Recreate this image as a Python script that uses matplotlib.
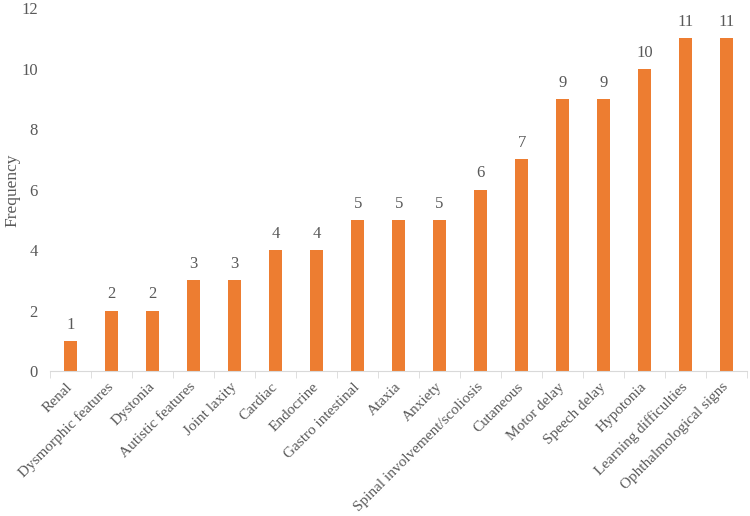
import numpy as np
import matplotlib.pyplot as plt

plt.rcParams['font.family'] = ['Liberation Serif', 'DejaVu Serif']

# Symptom categories and how often each was seen
categories = ["Renal", "Dysmorphic features", "Dystonia", "Autistic features",
              "Joint laxity", "Cardiac", "Endocrine", "Gastro intestinal",
              "Ataxia", "Anxiety", "Spinal involvement/scoliosis", "Cutaneous",
              "Motor delay", "Speech delay", "Hypotonia",
              "Learning difficulties", "Ophthalmological signs"]
frequency = [1, 2, 2, 3, 3, 4, 4, 5, 5, 5, 6, 7, 9, 9, 10, 11, 11]

text_col = "#595959"
bar_col = "#ED7D31"

fig = plt.figure(figsize=(7.5, 5.16), dpi=100)
ax = fig.add_axes([0.067, 0.281, 0.929, 0.703])

x = np.arange(len(categories))
bars = ax.bar(x, frequency, width=0.32, color=bar_col, zorder=2)

# value labels on top of each bar
for xi, v in zip(x, frequency):
    ax.text(xi, v + 0.27, str(v), ha='center', va='bottom',
            fontsize=12, color=text_col)

ax.set_xlim(-0.5, len(categories) - 0.5)
ax.set_ylim(0, 12)
ax.set_yticks(range(0, 13, 2))

# y label placed by hand so it stays inside the figure
fig.text(0.016, 0.632, "Frequency", rotation=90, ha='center', va='center',
         fontsize=12.5, color=text_col)

ax.set_xticks(x)
ax.set_xticklabels(categories, rotation=45, ha='right', va='center',
                   rotation_mode='anchor', fontsize=11, color=text_col)
ax.tick_params(axis='x', which='major', length=0, pad=10)
ax.set_xticks(np.arange(-0.5, len(categories), 1), minor=True)
ax.tick_params(axis='x', which='minor', length=5, color="#D9D9D9")
ax.tick_params(axis='y', length=0, labelsize=12, labelcolor=text_col, pad=9)

for s in ['top', 'right', 'left']:
    ax.spines[s].set_visible(False)
ax.spines['bottom'].set_color("#D9D9D9")

fig.savefig("out.png", dpi=100)
